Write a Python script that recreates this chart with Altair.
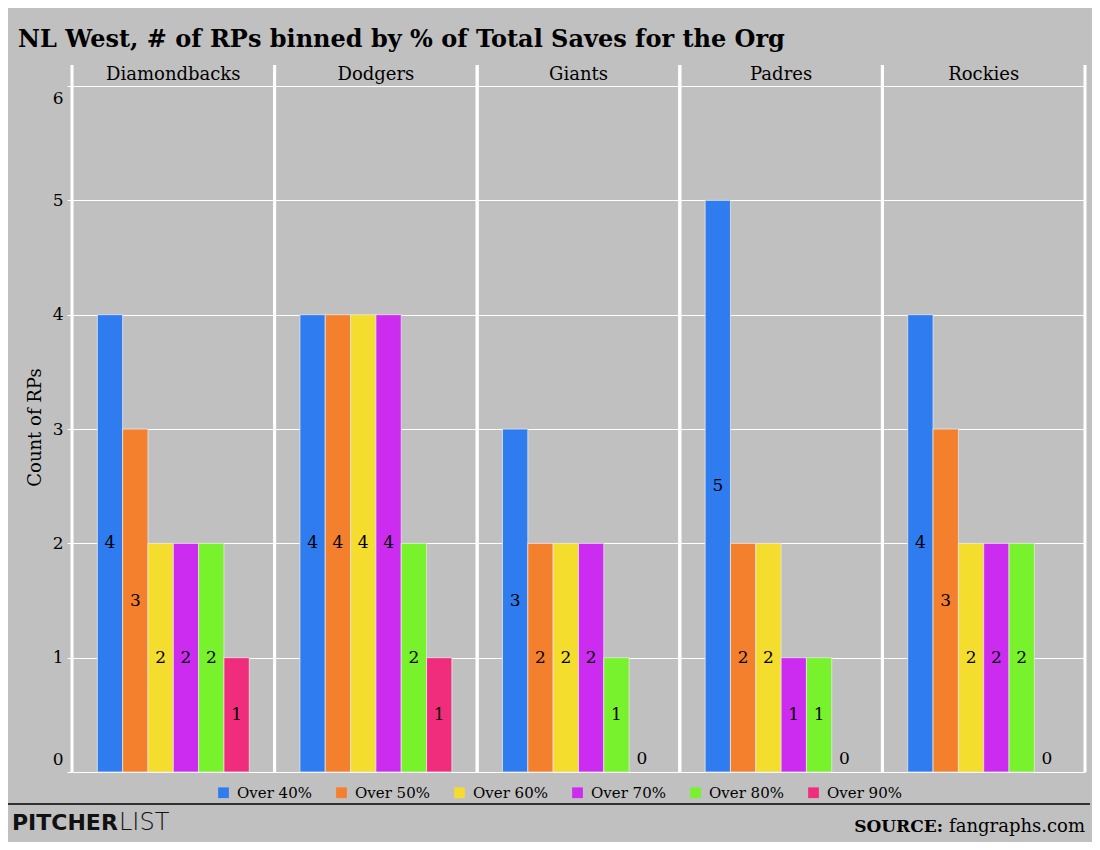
import altair as alt
import pandas as pd

# ===========================
# DADOS
# ===========================
teams = ['Diamondbacks', 'Dodgers', 'Giants', 'Padres', 'Rockies']
bins = ['Over 40%', 'Over 50%', 'Over 60%', 'Over 70%', 'Over 80%', 'Over 90%']
colors = ['#2e7cf0', '#f47f2c', '#f4dd2d', '#cb2cf0', '#78f22c', '#f02d7c']

diamondbacks = [4, 3, 2, 2, 2, 1]
dodgers = [4, 4, 4, 4, 2, 1]
giants = [3, 2, 2, 2, 1, 0]
padres = [5, 2, 2, 1, 1, 0]
rockies = [4, 3, 2, 2, 2, 0]

counts = [diamondbacks, dodgers, giants, padres, rockies]

df = pd.DataFrame([
    {'team': t, 'bin': b, 'n': v}
    for t, row in zip(teams, counts)
    for b, v in zip(bins, row)
])
df_teams = pd.DataFrame({'team': teams})
df_one = pd.DataFrame({'k': [0]})

W, H = 1013, 707
SERIF = 'DejaVu Serif'

x_scale = alt.Scale(domain=teams, paddingInner=0, paddingOuter=0)
xo_scale = alt.Scale(domain=bins, paddingInner=0, paddingOuter=1)
y_scale = alt.Scale(domain=[0, 6.184], nice=False)

# ===========================
# CAMADAS
# ===========================
bars = alt.Chart(df).transform_filter('datum.n > 0').mark_bar(
    stroke='#e6e6e6', strokeWidth=0.8
).encode(
    x=alt.X('team:N', scale=x_scale, axis=None),
    xOffset=alt.XOffset('bin:N', scale=xo_scale),
    y=alt.Y('n:Q', scale=y_scale, axis=alt.Axis(
        title='Count of RPs', values=[0, 1, 2, 3, 4, 5, 6], format='d',
        grid=True, gridColor='white', gridWidth=1,
        domain=False, ticks=True, tickColor='white', tickSize=5, tickWidth=1,
        labelFont=SERIF, labelFontSize=17, labelColor='black', labelPadding=4,
        labelOffset={'condition': [{'test': 'datum.value == 6', 'value': 12},
                                   {'test': 'datum.value == 0', 'value': -13}],
                     'value': 0},
        titleFont=SERIF, titleFontSize=18, titleFontWeight='normal', titleColor='black',
        titleX=-37, titleY=362, titleAlign='center', titleBaseline='middle', titleAngle=-90
    )),
    color=alt.Color('bin:N', scale=alt.Scale(domain=bins, range=colors), legend=alt.Legend(
        title=None, orient='none', legendX=144, legendY=720, direction='horizontal',
        columns=6, columnPadding=22, symbolType='square', symbolSize=115,
        symbolStrokeWidth=0, labelFont=SERIF, labelFontSize=15, labelColor='black',
        labelOffset=6, padding=0
    ))
)

labels = alt.Chart(df).transform_calculate(
    pos='datum.n == 0 ? 0.114 : datum.n / 2'
).mark_text(font=SERIF, fontSize=17, color='black', baseline='middle').encode(
    x=alt.X('team:N', scale=x_scale, axis=None),
    xOffset=alt.XOffset('bin:N', scale=xo_scale),
    y=alt.Y('pos:Q', scale=y_scale),
    text='n:Q'
)

sep_left = alt.Chart(df_teams).mark_rule(color='white', strokeWidth=3).encode(
    x=alt.X('team:N', scale=x_scale, axis=None, bandPosition=0),
    y=alt.value(0), y2=alt.value(H)
)
sep_right = alt.Chart(df_teams).mark_rule(color='white', strokeWidth=3).encode(
    x=alt.X('team:N', scale=x_scale, axis=None, bandPosition=1),
    y=alt.value(0), y2=alt.value(H)
)

headers = alt.Chart(df_teams).mark_text(
    font=SERIF, fontSize=18, color='black', baseline='middle'
).encode(
    x=alt.X('team:N', scale=x_scale, axis=None),
    y=alt.value(10),
    text='team:N'
)

# rodapé
linha = alt.Chart(df_one).mark_rule(color='black', strokeWidth=1.5).encode(
    x=alt.value(-64), x2=alt.value(1018), y=alt.value(739)
)
pitcher = alt.Chart(df_one).mark_text(
    text='PITCHER', font='DejaVu Sans', fontSize=22, fontWeight='bold',
    color='#111111', align='left', baseline='middle'
).encode(x=alt.value(-60), y=alt.value(758))
lista = alt.Chart(df_one).mark_text(
    text='LIST', font='DejaVu Sans', fontSize=24, fontWeight=200,
    color='#111111', align='left', baseline='middle'
).encode(x=alt.value(47), y=alt.value(758))
source = alt.Chart(df_one).mark_text(
    text='SOURCE:', font=SERIF, fontSize=17, fontWeight='bold',
    color='black', align='right', baseline='middle'
).encode(x=alt.value(871), y=alt.value(762))
fonte = alt.Chart(df_one).mark_text(
    text='fangraphs.com', font=SERIF, fontSize=18,
    color='black', align='right', baseline='middle'
).encode(x=alt.value(1013), y=alt.value(762))

chart = alt.layer(
    bars, labels, sep_left, sep_right, headers, linha, pitcher, lista, source, fonte
).properties(
    width=W, height=H, autosize='none',
    padding={'left': 64, 'top': 57, 'right': 7, 'bottom': 70},
    background='#c0c0c0',
    title=alt.TitleParams(
        'NL West, # of RPs binned by % of Total Saves for the Org',
        anchor='start', frame='group', dx=-54, dy=26, offset=19, baseline='alphabetic',
        font=SERIF, fontSize=24, fontWeight='bold', color='black'
    )
).configure_view(stroke=None)

chart.save('out.html', embed_options={'renderer': 'svg', 'actions': False})
